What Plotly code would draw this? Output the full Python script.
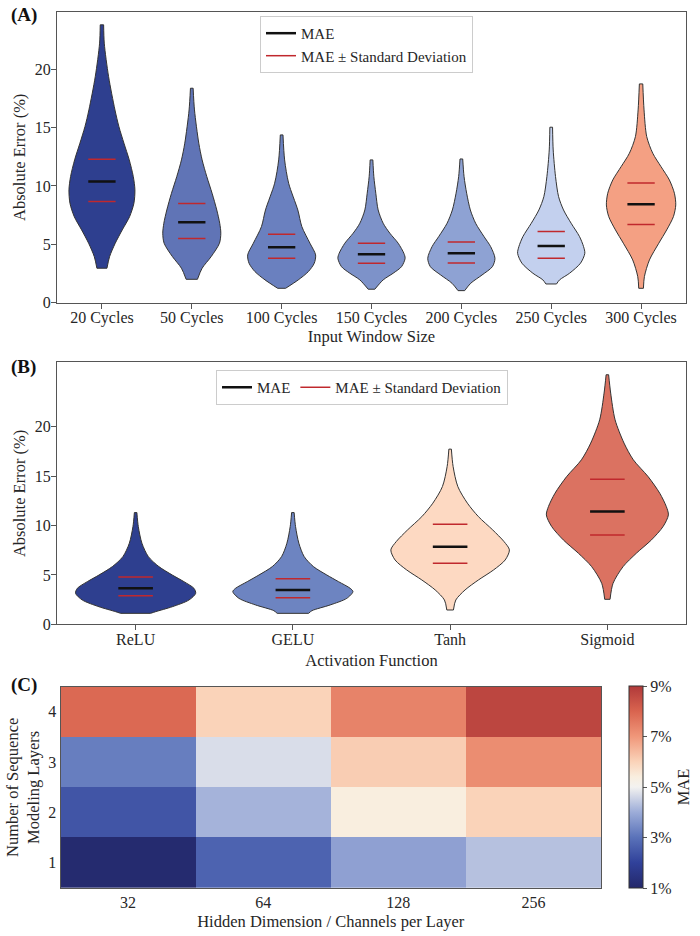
import plotly.graph_objects as go

FONT = "Liberation Serif"
TXT = "#262626"
AXC = "#555555"

# ---------------- Panel A data ----------------
window_labels = ["20 Cycles", "50 Cycles", "100 Cycles", "150 Cycles", "200 Cycles", "250 Cycles", "300 Cycles"]
window_mae = [10.37, 6.89, 4.75, 4.15, 4.23, 4.86, 8.43]
window_sd_hi = [12.29, 8.49, 5.86, 5.09, 5.20, 6.09, 10.26]
window_sd_lo = [8.66, 5.49, 3.80, 3.38, 3.40, 3.80, 6.69]
window_colors = ["#2e3f8f", "#6074b6", "#6a80bf", "#7d92c9", "#8ea2d3", "#c3d0ee", "#f4a083"]

# violin outlines: error levels (bottom -> top) and half widths
v20_y = [2.95, 3.94, 5.09, 6.23, 7.37, 8.52, 9.66, 10.80, 12.23, 13.66, 15.08, 16.51, 19.37, 22.23, 23.80]
v20_w = [0.056, 0.085, 0.148, 0.226, 0.308, 0.356, 0.367, 0.349, 0.304, 0.245, 0.189, 0.145, 0.074, 0.026, 0.019]
v50_y = [2.00, 2.95, 3.94, 5.09, 5.95, 6.80, 7.94, 9.37, 10.80, 12.23, 13.66, 16.51, 18.37]
v50_w = [0.063, 0.115, 0.215, 0.308, 0.323, 0.311, 0.278, 0.226, 0.167, 0.115, 0.078, 0.030, 0.015]
v100_y = [1.23, 1.95, 2.66, 3.38, 4.09, 5.09, 6.51, 7.94, 10.23, 12.23, 14.37]
v100_w = [0.044, 0.185, 0.297, 0.363, 0.378, 0.315, 0.225, 0.180, 0.078, 0.033, 0.015]
v150_y = [1.15, 1.95, 2.52, 3.08, 3.80, 4.23, 5.09, 5.95, 6.80, 7.94, 9.37, 10.80, 12.23]
v150_w = [0.037, 0.130, 0.241, 0.334, 0.374, 0.360, 0.297, 0.204, 0.130, 0.074, 0.048, 0.026, 0.015]
v200_y = [1.03, 1.66, 2.37, 3.08, 3.80, 4.80, 5.66, 6.80, 7.94, 9.37, 10.80, 12.31]
v200_w = [0.037, 0.104, 0.230, 0.345, 0.374, 0.326, 0.252, 0.159, 0.100, 0.059, 0.030, 0.015]
v250_y = [1.60, 1.95, 2.52, 3.38, 4.23, 4.80, 5.66, 6.80, 7.94, 9.08, 10.80, 13.08, 15.03]
v250_w = [0.059, 0.093, 0.204, 0.326, 0.374, 0.360, 0.315, 0.222, 0.137, 0.082, 0.048, 0.022, 0.015]
v300_y = [1.23, 2.23, 3.66, 5.09, 6.23, 7.37, 8.37, 9.37, 10.51, 11.65, 12.80, 14.22, 16.51, 18.74]
v300_w = [0.026, 0.037, 0.093, 0.197, 0.285, 0.360, 0.386, 0.371, 0.315, 0.222, 0.130, 0.063, 0.033, 0.019]

# ---------------- Panel B data ----------------
act_labels = ["ReLU", "GELU", "Tanh", "Sigmoid"]
act_mae = [3.64, 3.47, 7.86, 11.41]
act_sd_hi = [4.79, 4.62, 10.13, 14.69]
act_sd_lo = [2.90, 2.70, 6.18, 9.05]
act_colors = ["#2e3f8f", "#6d84c1", "#fdd9c2", "#db7261"]

relu_y = [1.11, 1.28, 1.78, 2.46, 3.14, 3.64, 4.32, 4.99, 5.84, 6.85, 8.21, 9.89, 11.31]
relu_w = [0.095, 0.127, 0.233, 0.339, 0.382, 0.371, 0.307, 0.233, 0.148, 0.081, 0.040, 0.017, 0.008]
gelu_y = [1.11, 1.38, 1.96, 2.63, 3.31, 3.64, 4.32, 4.99, 5.84, 6.85, 8.21, 9.89, 11.31]
gelu_w = [0.100, 0.121, 0.237, 0.343, 0.382, 0.365, 0.290, 0.216, 0.131, 0.072, 0.038, 0.017, 0.008]
tanh_y = [1.45, 2.46, 3.48, 4.49, 5.50, 6.51, 7.53, 8.37, 9.55, 10.90, 12.26, 13.94, 15.97, 17.73]
tanh_w = [0.021, 0.036, 0.095, 0.180, 0.276, 0.350, 0.377, 0.343, 0.271, 0.180, 0.110, 0.049, 0.019, 0.008]
sigm_y = [2.53, 4.15, 5.84, 7.19, 8.54, 9.89, 11.07, 11.91, 13.27, 14.95, 16.65, 18.34, 20.70, 23.40, 25.26]
sigm_w = [0.017, 0.036, 0.100, 0.184, 0.280, 0.354, 0.388, 0.375, 0.333, 0.259, 0.165, 0.106, 0.049, 0.021, 0.008]

# ---------------- Panel C data ----------------
hidden_dims = ["32", "64", "128", "256"]
seq_layers = ["1", "2", "3", "4"]
mae_layer1 = [1.1, 2.7, 3.8, 4.3]
mae_layer2 = [2.4, 4.1, 5.4, 6.0]
mae_layer3 = [3.2, 4.7, 6.1, 7.2]
mae_layer4 = [7.9, 6.0, 7.4, 8.7]
cbar_ticks = [1, 3, 5, 7, 9]
cbar_text = ["1%", "3%", "5%", "7%", "9%"]

colorscale = [
    [0.0, "#24286a"], [0.125, "#30419a"], [0.25, "#5a72b9"], [0.375, "#9cacd8"],
    [0.5, "#f3f2f0"], [0.55, "#f9eedf"], [0.625, "#fad3b9"], [0.75, "#f0977a"],
    [0.875, "#d9644f"], [1.0, "#b0393a"],
]

fig = go.Figure()
EDGE = "#333333"


def add_violin(c, ys, ws, color, xa, ya):
    left = [c - w for w in ws]
    right = [c + w for w in ws]
    ln = dict(color=EDGE, width=1, shape="spline", smoothing=0.8)
    fig.add_trace(go.Scatter(x=left, y=ys, mode="lines", line=ln, showlegend=False,
                             hoverinfo="skip", xaxis=xa, yaxis=ya))
    fig.add_trace(go.Scatter(x=right, y=ys, mode="lines", line=ln, fill="tonextx", fillcolor=color,
                             showlegend=False, hoverinfo="skip", xaxis=xa, yaxis=ya))
    fig.add_trace(go.Scatter(x=[left[0], right[0], None, left[-1], right[-1]],
                             y=[ys[0], ys[0], None, ys[-1], ys[-1]], mode="lines",
                             line=dict(color=EDGE, width=1), showlegend=False,
                             hoverinfo="skip", xaxis=xa, yaxis=ya))


def seg_xy(vals, hw):
    xs, ys = [], []
    for i, v in enumerate(vals):
        xs += [i - hw, i + hw, None]
        ys += [v, v, None]
    return xs, ys


def add_stats(mae, hi, lo, hw, xa, ya, legend):
    mx, my = seg_xy(mae, hw)
    hx, hy = seg_xy(hi, hw)
    lx, ly = seg_xy(lo, hw)
    fig.add_trace(go.Scatter(x=mx, y=my, mode="lines", line=dict(color="#111111", width=2.5),
                             name="MAE", xaxis=xa, yaxis=ya, legend=legend, hoverinfo="skip"))
    fig.add_trace(go.Scatter(x=hx + lx, y=hy + ly, mode="lines", line=dict(color="#c0282d", width=1.5),
                             name="MAE ± Standard Deviation", xaxis=xa, yaxis=ya, legend=legend,
                             hoverinfo="skip"))


prof_A = [(v20_y, v20_w), (v50_y, v50_w), (v100_y, v100_w), (v150_y, v150_w),
          (v200_y, v200_w), (v250_y, v250_w), (v300_y, v300_w)]
for i, (ys, ws) in enumerate(prof_A):
    add_violin(i, ys, ws, window_colors[i], "x", "y")
add_stats(window_mae, window_sd_hi, window_sd_lo, 0.152, "x", "y", "legend")

prof_B = [(relu_y, relu_w), (gelu_y, gelu_w), (tanh_y, tanh_w), (sigm_y, sigm_w)]
for i, (ys, ws) in enumerate(prof_B):
    add_violin(i, ys, ws, act_colors[i], "x2", "y2")
add_stats(act_mae, act_sd_hi, act_sd_lo, 0.11, "x2", "y2", "legend2")

fig.add_trace(go.Heatmap(
    x=hidden_dims, y=seq_layers, z=[mae_layer1, mae_layer2, mae_layer3, mae_layer4],
    zmin=1, zmax=9, colorscale=colorscale, xaxis="x3", yaxis="y3", hoverinfo="skip",
    colorbar=dict(thickness=14, thicknessmode="pixels", len=0.2301, lenmode="fraction",
                  x=0.9094, xanchor="left", y=0, yanchor="bottom", xpad=0, ypad=0,
                  outlinewidth=1, outlinecolor="#333333",
                  tickvals=cbar_ticks, ticktext=cbar_text, ticks="outside", ticklen=4,
                  tickcolor=AXC, tickfont=dict(family=FONT, size=16, color=TXT),
                  title=dict(text="MAE", side="right", font=dict(family=FONT, size=16.5, color=TXT))),
))

tickf = dict(family=FONT, size=16, color=TXT)
titf = dict(family=FONT, size=16.5, color=TXT)
ax_common = dict(showline=True, mirror=True, linecolor=AXC, linewidth=1, ticks="outside",
                 ticklen=5, tickcolor=AXC, tickfont=tickf, showgrid=False, zeroline=False,
                 automargin=False)

fig.update_layout(
    width=700, height=936,
    margin=dict(l=57, r=14, t=12, b=48, autoexpand=False),
    paper_bgcolor="white", plot_bgcolor="white",
    font=dict(family=FONT, color=TXT),
    xaxis=dict(domain=[0, 1], anchor="y", range=[-0.5, 6.5], tickvals=list(range(7)),
               ticktext=window_labels, ticklabelstandoff=-5,
               title=dict(text="Input Window Size", font=titf, standoff=3), **ax_common),
    yaxis=dict(domain=[0.6682, 1.0], anchor="x", range=[0, 24.9], tickvals=[0, 5, 10, 15, 20],
               ticklabelstandoff=-3,
               title=dict(text="Absolute Error (%)", font=titf, standoff=5), **ax_common),
    xaxis2=dict(domain=[0, 1], anchor="y2", range=[-0.5, 3.5], tickvals=list(range(4)),
                ticktext=act_labels, ticklabelstandoff=-5,
                title=dict(text="Activation Function", font=titf, standoff=6), **ax_common),
    yaxis2=dict(domain=[0.3010, 0.5999], anchor="x2", range=[0, 26.5], tickvals=[0, 5, 10, 15, 20],
                ticklabelstandoff=-3,
                title=dict(text="Absolute Error (%)", font=titf, standoff=5), **ax_common),
    xaxis3=dict(domain=[0.0056, 0.8649], anchor="y3", type="category",
                title=dict(text="Hidden Dimension / Channels per Layer", font=titf, standoff=5),
                showline=True, mirror=True, linecolor=AXC, linewidth=1, ticks="", tickfont=tickf,
                showgrid=False, zeroline=False, automargin=False),
    yaxis3=dict(domain=[0, 0.2298], anchor="x3", type="category",
                title=dict(text="Number of Sequence<br>Modeling Layers", font=titf, standoff=4),
                showline=True, mirror=True, linecolor=AXC, linewidth=1, ticks="", tickfont=tickf,
                showgrid=False, zeroline=False, automargin=False),
    legend=dict(x=0.3227, y=0.9955, xanchor="left", yanchor="top", bgcolor="white",
                bordercolor="#cccccc", borderwidth=1, font=dict(family=FONT, size=15, color=TXT),
                itemwidth=30, tracegroupgap=0, traceorder="normal"),
    legend2=dict(orientation="h", x=0.2528, y=0.5913, xanchor="left", yanchor="top", bgcolor="white",
                 bordercolor="#cccccc", borderwidth=1, font=dict(family=FONT, size=15, color=TXT),
                 itemwidth=30, traceorder="normal"),
    annotations=[
        dict(text="<b>(A)</b>", xref="paper", yref="paper", x=-0.0763, y=0.9966, xanchor="left",
             yanchor="middle", showarrow=False, font=dict(family=FONT, size=19, color="#111111")),
        dict(text="<b>(B)</b>", xref="paper", yref="paper", x=-0.0763, y=(888 - 366.7) / 876,
             xanchor="left", yanchor="middle", showarrow=False, font=dict(family=FONT, size=19, color="#111111")),
        dict(text="<b>(C)</b>", xref="paper", yref="paper", x=-0.0763, y=(888 - 685) / 876,
             xanchor="left", yanchor="middle", showarrow=False, font=dict(family=FONT, size=19, color="#111111")),
    ],
)

# remove the browser's default 8px page margin so the figure sits at the window's origin
fig.write_html("out.html", config={"displayModeBar": False},
               post_script="document.body.style.margin='0';document.body.style.overflow='hidden';")
